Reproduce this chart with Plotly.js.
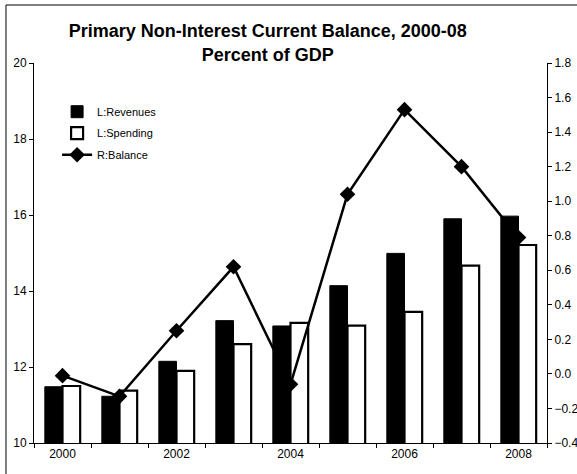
<!DOCTYPE html>
<html>
<head>
<meta charset="utf-8">
<script src="https://cdn.plot.ly/plotly-3.0.1.min.js"></script>
<style>html,body{margin:0;padding:0;background:#fff;}#chart{width:577px;height:474px;}</style>
</head>
<body>
<div id="chart"></div>
<script>
const years = [2000, 2001, 2002, 2003, 2004, 2005, 2006, 2007, 2008];
const revenues = [11.48, 11.23, 12.15, 13.22, 13.08, 14.14, 14.99, 15.90, 15.97];
const spending = [11.50, 11.38, 11.90, 12.60, 13.16, 13.09, 13.45, 14.67, 15.21];
const balance = [-0.01, -0.13, 0.25, 0.62, -0.06, 1.04, 1.53, 1.20, 0.79];
const xTickVals = [2000, 2002, 2004, 2006, 2008];
const xTickText = ['2000', '2002', '2004', '2006', '2008'];
const leftTicks = [10, 12, 14, 16, 18, 20];
const rightTicks = [-0.4, -0.2, 0.0, 0.2, 0.4, 0.6, 0.8, 1.0, 1.2, 1.4, 1.6, 1.8];

const FONT = 'Arial, "Liberation Sans", sans-serif';

const traces = [
  {type: 'bar', name: 'L:Revenues', legendgroup: 'a', x: years, y: revenues, xaxis: 'x', yaxis: 'y',
   marker: {color: '#000000', line: {color: '#000000', width: 1}}},
  {type: 'bar', name: 'L:Spending', legendgroup: 'b', x: years, y: spending, xaxis: 'x', yaxis: 'y',
   marker: {color: '#ffffff', line: {color: '#000000', width: 2.2}}},
  {type: 'scatter', mode: 'lines+markers', name: 'R:Balance', legendgroup: 'c', x: years, y: balance,
   xaxis: 'x', yaxis: 'y2',
   line: {color: '#000000', width: 2.5},
   marker: {symbol: 'diamond', size: 12, color: '#000000'}}
];

const layout = {
  width: 577, height: 474,
  paper_bgcolor: '#ffffff', plot_bgcolor: '#ffffff',
  margin: {l: 34, r: 30, t: 63, b: 31, pad: 0},
  font: {family: FONT, size: 12, color: '#000000'},
  title: {text: 'Primary Non-Interest Current Balance, 2000-08<br>Percent of GDP',
          font: {family: FONT, size: 18, color: '#000000', weight: 'bold'},
          x: 0.464, xref: 'container', xanchor: 'center', y: 0.921, yref: 'container', yanchor: 'top'},
  barmode: 'group', bargap: 0.38, bargroupgap: 0,
  showlegend: true,
  legend: {x: 0.045, y: 0.91, xanchor: 'left', yanchor: 'top', bgcolor: 'rgba(0,0,0,0)',
           font: {family: FONT, size: 11, color: '#000000'}, tracegroupgap: 2.5, itemwidth: 30},
  xaxis: {range: [1999.5, 2008.5], tickmode: 'array', tickvals: xTickVals, ticktext: xTickText,
          ticks: '', showline: true, linecolor: '#000000', linewidth: 1, showgrid: false, zeroline: false,
          tickfont: {family: FONT, size: 12},
          minor: {tickmode: 'linear', tick0: 1999.5, dtick: 1, ticks: 'outside', ticklen: 4, tickwidth: 1, tickcolor: '#000000', showgrid: false}},
  xaxis2: {range: [1999.5, 2008.5], overlaying: 'x', anchor: 'y', showticklabels: false, showline: false,
           showgrid: false, zeroline: false, ticks: '', tickmode: 'array', tickvals: [],
           minor: {tickmode: 'linear', tick0: 1999.5, dtick: 1, ticks: 'inside', ticklen: 4, tickwidth: 1, tickcolor: '#000000', showgrid: false}},
  yaxis: {range: [10, 20], tickmode: 'array', tickvals: leftTicks, ticks: 'outside', ticklen: 4,
          tickcolor: '#000000', showline: true, linecolor: '#000000', linewidth: 1, showgrid: false,
          zeroline: false, tickfont: {family: FONT, size: 12}},
  yaxis3: {range: [10, 20], overlaying: 'y', side: 'left', anchor: 'x', tickmode: 'array', tickvals: leftTicks,
           ticks: 'inside', ticklen: 4, tickcolor: '#000000', showticklabels: false, showline: false,
           showgrid: false, zeroline: false},
  yaxis2: {range: [-0.4, 1.8], overlaying: 'y', side: 'right', anchor: 'x', tickmode: 'array',
           tickvals: rightTicks, tickformat: '.1f', ticks: 'outside', ticklen: 4, tickcolor: '#000000',
           showline: true, linecolor: '#000000', linewidth: 1, showgrid: false, zeroline: false,
           tickfont: {family: FONT, size: 12}},
  yaxis4: {range: [-0.4, 1.8], overlaying: 'y', side: 'right', anchor: 'x', tickmode: 'array',
           tickvals: rightTicks, ticks: 'inside', ticklen: 4, tickcolor: '#000000', showticklabels: false,
           showline: false, showgrid: false, zeroline: false},
  shapes: [{type: 'rect', xref: 'paper', yref: 'paper', x0: -0.0546, x1: 1.07, y0: -0.1, y1: 1.1526,
            line: {color: '#000000', width: 1}, fillcolor: 'rgba(0,0,0,0)', layer: 'above'}]
};

Plotly.newPlot('chart', traces, layout, {displayModeBar: false, staticPlot: true});
</script>
</body>
</html>
